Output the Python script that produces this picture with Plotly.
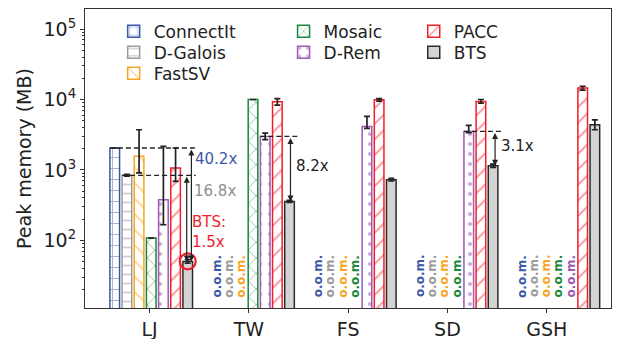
import numpy as np
import plotly.graph_objects as go

# ---------------- data ----------------
graphs = ["LJ", "TW", "FS", "SD", "GSH"]
methods = ["ConnectIt", "D-Galois", "FastSV", "Mosaic", "D-Rem", "PACC", "BTS"]

# Peak memory (MB); None = out of memory (o.o.m.)
connectit = [2050, None, None, None, None]
dgalois = [840, None, None, None, None]
fastsv = [1560, None, None, None, None]
mosaic = [108, 10000, None, None, None]
drem = [378, 2990, 4150, 3520, None]
pacc = [1067, 9300, 9900, 9400, 14500]
bts = [50.4, 358, 727, 1148, 4390]

# error bars (upper / lower extents, MB)
connectit_err_up = [0, 0, 0, 0, 0]
connectit_err_dn = [0, 0, 0, 0, 0]
dgalois_err_up = [25, 0, 0, 0, 0]
dgalois_err_dn = [25, 0, 0, 0, 0]
fastsv_err_up = [2160, 0, 0, 0, 0]
fastsv_err_dn = [650, 0, 0, 0, 0]
mosaic_err_up = [0, 0, 0, 0, 0]
mosaic_err_dn = [0, 0, 0, 0, 0]
drem_err_up = [1780, 350, 1600, 770, 0]
drem_err_dn = [211, 300, 250, 150, 0]
pacc_err_up = [983, 1000, 400, 600, 900]
pacc_err_dn = [380, 1000, 400, 500, 900]
bts_err_up = [3, 12, 30, 60, 750]
bts_err_dn = [3, 12, 30, 60, 670]

# speedup annotations
lj_connectit_label = "40.2x"
lj_dgalois_label = "16.8x"
lj_bts_label = "BTS:<br>1.5x"
tw_label = "8.2x"
sd_label = "3.1x"

ytick_vals = [1e2, 1e3, 1e4, 1e5]
ytick_text = ["10<sup>2</sup>", "10<sup>3</sup>", "10<sup>4</sup>", "10<sup>5</sup>"]

# ---------------- style ----------------
colors = {
    "ConnectIt": "#3a58a8",
    "D-Galois": "#9a9a9a",
    "FastSV": "#f7a520",
    "Mosaic": "#1a873a",
    "D-Rem": "#a058b4",
    "PACC": "#f01e2a",
    "BTS": "#2a2a2a",
}
patterns = {
    "ConnectIt": ("+", 11, 0.16),
    "D-Galois": ("-", 9, 0.18),
    "FastSV": ("\\", 11, 0.16),
    "Mosaic": ("x", 11, 0.16),
    "D-Rem": (".", 10, 0.14),
    "PACC": ("/", 11, 0.16),
}

series = {
    "ConnectIt": (connectit, connectit_err_up, connectit_err_dn),
    "D-Galois": (dgalois, dgalois_err_up, dgalois_err_dn),
    "FastSV": (fastsv, fastsv_err_up, fastsv_err_dn),
    "Mosaic": (mosaic, mosaic_err_up, mosaic_err_dn),
    "D-Rem": (drem, drem_err_up, drem_err_dn),
    "PACC": (pacc, pacc_err_up, pacc_err_dn),
    "BTS": (bts, bts_err_up, bts_err_dn),
}

# legend grid (column, row) for each entry
legend_cell = {
    "ConnectIt": (0, 0), "D-Galois": (0, 1), "FastSV": (0, 2),
    "Mosaic": (1, 0), "D-Rem": (1, 1),
    "PACC": (2, 0), "BTS": (2, 1),
}
LEGEND_COL_X = [0.0545, 0.3775, 0.625]
LEGEND_ROW_Y = [0.924, 0.854, 0.784]

GROUP_STEP = 1.025
GROUP_SHIFT = 0.017
SLOT = 0.1225
BAR_W = 0.097
OOM_Y = 14.5

group_pos = np.arange(len(graphs)) * GROUP_STEP + GROUP_SHIFT


def bar_x(i, j):
    return group_pos[i] + (j - 3) * SLOT


fig = go.Figure()
annotations = []
legends = {}

for j, m in enumerate(methods):
    vals, eu, ed = series[m]
    xs = [bar_x(i, j) for i in range(len(graphs))]
    if m == "BTS":
        marker = dict(color="#d4d4d4", line=dict(color=colors[m], width=1.5))
    else:
        shape, size, sol = patterns[m]
        marker = dict(
            color="white",
            line=dict(color=colors[m], width=1.5),
            pattern=dict(shape=shape, fgcolor=colors[m], bgcolor="white",
                         size=size, solidity=sol, fillmode="overlay"),
        )
    lname = "legend" if j == 0 else f"legend{j + 1}"
    c, r = legend_cell[m]
    legends[lname] = dict(x=LEGEND_COL_X[c], y=LEGEND_ROW_Y[r], xanchor="left",
                          yanchor="middle", bgcolor="rgba(0,0,0,0)",
                          font=dict(size=17), borderwidth=0)
    fig.add_trace(go.Bar(
        x=xs, y=vals, width=BAR_W, name=m, marker=marker,
        legend=lname,
        error_y=dict(type="data", symmetric=False, array=eu, arrayminus=ed,
                     color="#222222", thickness=1.7, width=3),
    ))
    for i, v in enumerate(vals):
        if v is None:
            annotations.append(dict(
                x=xs[i], y=np.log10(OOM_Y), xref="x", yref="y",
                text="<b>o.o.m.</b>", showarrow=False, textangle=-90,
                xanchor="center", yanchor="bottom",
                font=dict(size=12, color=colors[m]),
            ))

bts_j = methods.index("BTS")


def hline(x0, x1, v):
    fig.add_trace(go.Scatter(
        x=[x0, x1], y=[v, v], mode="lines", showlegend=False, hoverinfo="skip",
        line=dict(color="#222222", width=1.3, dash="5px,3px"),
    ))


def darrow(x, v_top, v_bot):
    annotations.append(dict(
        x=x, y=np.log10(v_bot), ax=x, ay=np.log10(v_top), xref="x", yref="y",
        axref="x", ayref="y", text="", showarrow=True, arrowhead=2,
        arrowside="end+start", arrowsize=1, arrowwidth=1.2, arrowcolor="#222222",
        standoff=0, startstandoff=0,
    ))


def label(x, yv, text, color):
    annotations.append(dict(
        x=x, y=np.log10(yv), xref="x", yref="y", text=text, showarrow=False,
        xanchor="left", yanchor="middle", align="left",
        font=dict(size=15, color=color),
    ))


# LJ
i = 0
hline(bar_x(i, 0) - BAR_W / 2, bar_x(i, bts_j) + 0.1, connectit[i])
hline(bar_x(i, 1) - BAR_W / 2, bar_x(i, bts_j) + 0.08, dgalois[i])
darrow(bar_x(i, bts_j) + 0.037, connectit[i], bts[i])
darrow(bar_x(i, bts_j) - 0.01, dgalois[i], bts[i])
label(bar_x(i, bts_j) + 0.05, 10 ** 3.16, lj_connectit_label, colors["ConnectIt"])
label(bar_x(i, bts_j) + 0.04, 10 ** 2.70, lj_dgalois_label, "#8e8e8e")
label(bar_x(i, bts_j) + 0.02, 10 ** 2.125, lj_bts_label, colors["PACC"])
fig.add_trace(go.Scatter(
    x=[bar_x(i, bts_j)], y=[bts[i]], mode="markers", showlegend=False,
    hoverinfo="skip",
    marker=dict(symbol="circle-open", size=16, color=colors["PACC"],
                line=dict(width=2.2, color=colors["PACC"])),
))

# TW
i = 1
hline(bar_x(i, 4) - BAR_W / 2, bar_x(i, bts_j) + 0.1, drem[i])
darrow(bar_x(i, bts_j) + 0.01, drem[i], bts[i])
label(bar_x(i, bts_j) + 0.045, 10 ** 3.05, tw_label, "#222222")

# SD
i = 3
hline(bar_x(i, 4) - BAR_W / 2, bar_x(i, bts_j) + 0.1, drem[i])
darrow(bar_x(i, bts_j) + 0.02, drem[i], bts[i])
label(bar_x(i, bts_j) + 0.055, 10 ** 3.344, sd_label, "#222222")

axis_common = dict(
    showline=True, linecolor="#333333", linewidth=1, mirror=True,
    ticks="outside", tickcolor="#333333", ticklen=4, tickwidth=1,
    showgrid=False, zeroline=False, automargin=False,
)

minor_vals = [k * 10 ** d for d in range(1, 5) for k in range(2, 10)]

# the page body adds an 8px margin, so the figure is sized/placed to compensate
fig.update_layout(
    width=618, height=331,
    margin=dict(l=77, r=15, t=1, b=31),
    paper_bgcolor="white", plot_bgcolor="white",
    font=dict(family="DejaVu Sans", color="#222222"),
    barmode="overlay",
    annotations=annotations,
    xaxis=dict(range=[-0.65, 4.647], tickmode="array", tickvals=list(range(len(graphs))),
               ticktext=graphs, tickfont=dict(size=19), **axis_common),
    yaxis=dict(type="log", range=[1.041, 5.284], tickmode="array",
               tickvals=ytick_vals, ticktext=ytick_text, tickfont=dict(size=19),
               title=dict(text="Peak memory (MB)", font=dict(size=19), standoff=6),
               minor=dict(tickmode="array", tickvals=minor_vals, ticks="outside",
                          ticklen=2, tickcolor="#333333"),
               **axis_common),
    showlegend=True,
    **legends,
)

fig.write_html("out.html")
